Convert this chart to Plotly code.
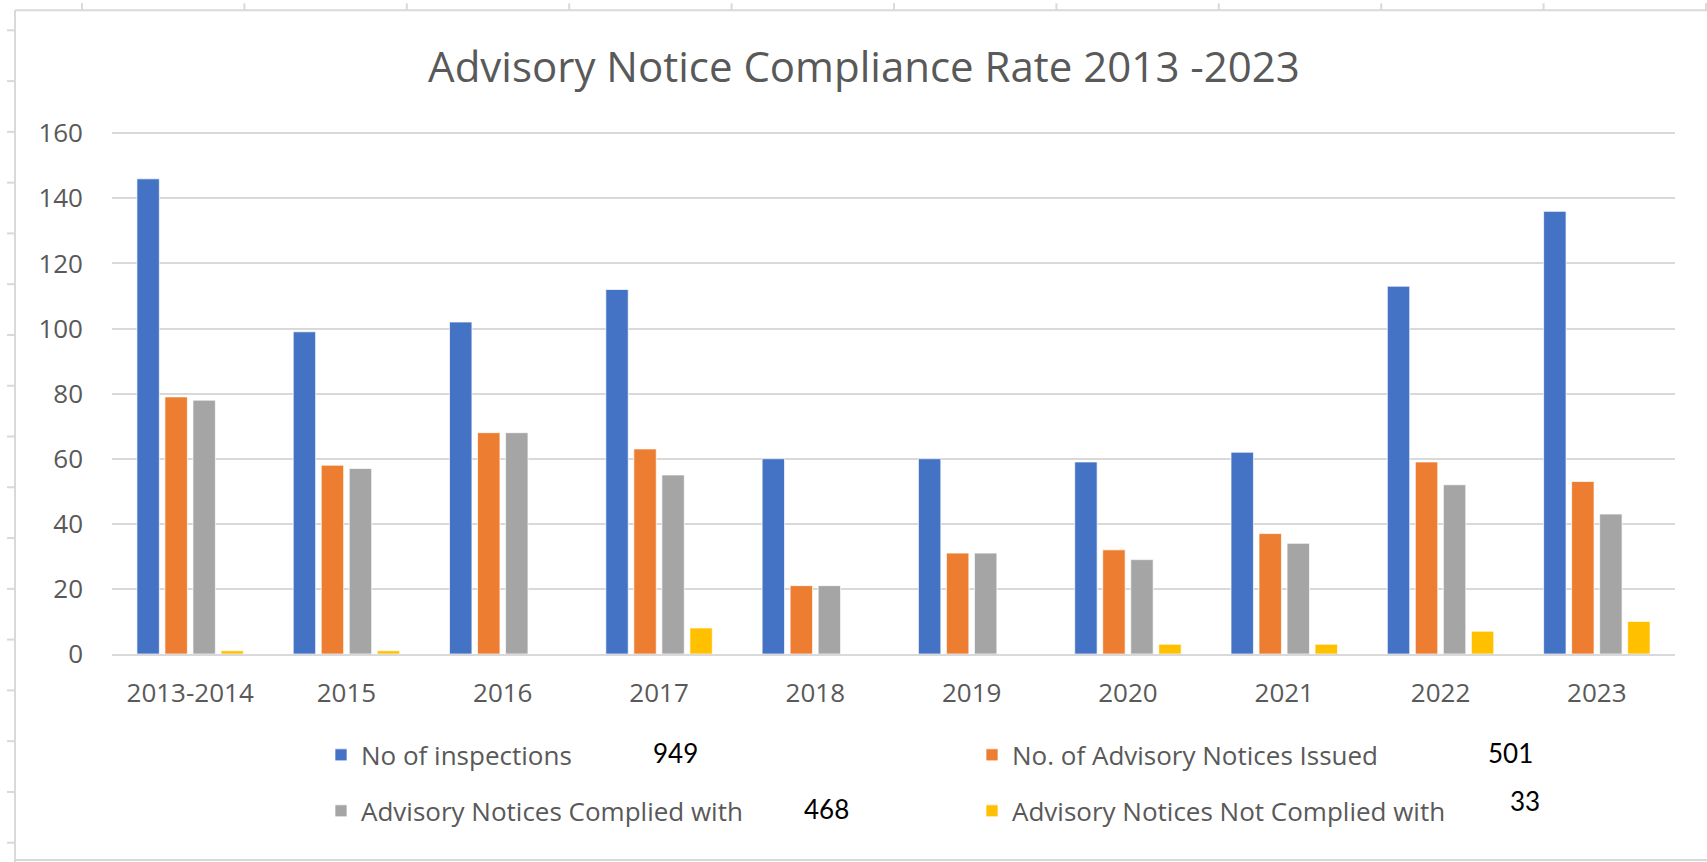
import plotly.graph_objects as go

# ---------------- data ----------------
categories = ["2013-2014", "2015", "2016", "2017", "2018", "2019", "2020", "2021", "2022", "2023"]
inspections = [146, 99, 102, 112, 60, 60, 59, 62, 113, 136]
notices_issued = [79, 58, 68, 63, 21, 31, 32, 37, 59, 53]
complied = [78, 57, 68, 55, 21, 31, 29, 34, 52, 43]
not_complied = [1, 1, 0, 8, 0, 0, 3, 3, 7, 10]
series_names = ["No of inspections", "No. of Advisory Notices Issued",
                "Advisory Notices Complied with", "Advisory Notices Not Complied with"]
series_totals = ["949", "501", "468", "33"]
y_ticks = [0, 20, 40, 60, 80, 100, 120, 140, 160]
title_text = "Advisory Notice Compliance Rate 2013 -2023"

# ---------------- styling ----------------
colors = ["#4472C4", "#ED7D31", "#A5A5A5", "#FFC000"]
W, H = 1707, 862
Y_TOP = 161  # slightly above 160 so the 160 gridline is drawn
L, R, B = 112, 1675, 654  # plot area in pixels
T = B - Y_TOP * (654 - 133) / 160
FONT = "Open Sans"
TXT = "#595959"
EDGE = "#D9D9D9"


def px_x(p):
    return (p - L) / (R - L)


def px_y(p):
    return (B - p) / (B - T)


fig = go.Figure()
values = [inspections, notices_issued, complied, not_complied]
legend_ids = ["legend", "legend2", "legend3", "legend4"]
for name, vals, col, lg in zip(series_names, values, colors, legend_ids):
    fig.add_trace(go.Bar(
        x=categories, y=vals, name=name, legend=lg,
        marker=dict(color=col, line=dict(color="rgba(255,255,255,0.7)", width=1)),
    ))

# legend placement (two rows, two columns) using one legend per entry
legend_pos = {
    "legend": (321, 755),
    "legend2": (972, 755),
    "legend3": (321, 811),
    "legend4": (972, 811),
}
legend_layout = {}
for lg, (lx, ly) in legend_pos.items():
    legend_layout[lg] = dict(
        x=px_x(lx), y=px_y(ly), xanchor="left", yanchor="middle",
        orientation="h", bgcolor="rgba(0,0,0,0)", borderwidth=0,
        font=dict(family=FONT, size=26, color=TXT),
    )

# totals next to legend entries
total_pos = [(675, 753), (1510, 753), (826, 809), (1525, 801)]
annotations = []
for txt, (ax, ay) in zip(series_totals, total_pos):
    annotations.append(dict(
        x=px_x(ax), y=px_y(ay), xref="paper", yref="paper",
        text=txt, showarrow=False, xanchor="center", yanchor="middle",
        font=dict(family="Lato", size=26, color="#000000"),
    ))

# spreadsheet-like frame lines around the chart
shapes = []
line_style = dict(color=EDGE, width=2)
shapes.append(dict(type="line", xref="paper", yref="paper",
                   x0=px_x(15), x1=px_x(W), y0=px_y(10), y1=px_y(10), line=line_style))
shapes.append(dict(type="line", xref="paper", yref="paper",
                   x0=px_x(15), x1=px_x(15), y0=px_y(10), y1=px_y(H), line=line_style))
shapes.append(dict(type="line", xref="paper", yref="paper",
                   x0=px_x(15), x1=px_x(W), y0=px_y(860), y1=px_y(860), line=line_style))
tx = 82.0
while tx < W + 1:
    shapes.append(dict(type="line", xref="paper", yref="paper",
                       x0=px_x(tx), x1=px_x(tx), y0=px_y(3), y1=px_y(10), line=line_style))
    tx += 162.4
ty = 30.0
while ty < H:
    shapes.append(dict(type="line", xref="paper", yref="paper",
                       x0=px_x(7), x1=px_x(15), y0=px_y(ty), y1=px_y(ty), line=line_style))
    ty += 50.8

fig.update_layout(
    width=W, height=H,
    margin=dict(l=L, r=W - R, t=T, b=H - B, autoexpand=False),
    paper_bgcolor="white", plot_bgcolor="white",
    barmode="group", bargap=0.283, bargroupgap=0.2,
    title=dict(text=title_text, x=864 / W, xanchor="center", xref="container",
               y=1 - 67 / H, yanchor="middle", yref="container",
               font=dict(family=FONT, size=42, color=TXT)),
    font=dict(family=FONT, color=TXT),
    showlegend=True,
    annotations=annotations,
    shapes=shapes,
    **legend_layout,
)
fig.update_xaxes(
    showgrid=False, showline=True, linecolor=EDGE, linewidth=2,
    ticks="", tickfont=dict(family=FONT, size=26, color=TXT),
    ticklabelstandoff=15, fixedrange=True,
)
fig.update_yaxes(
    range=[0, Y_TOP], tickvals=y_ticks, showgrid=True, gridcolor=EDGE, gridwidth=1.5,
    zeroline=False, showline=False, ticks="",
    tickfont=dict(family=FONT, size=26, color=TXT),
    ticklabelstandoff=28, fixedrange=True,
)

fig.write_html(
    "out.html",
    config={"displayModeBar": False},
    post_script="document.body.style.margin='0';document.body.style.overflow='hidden';",
)
